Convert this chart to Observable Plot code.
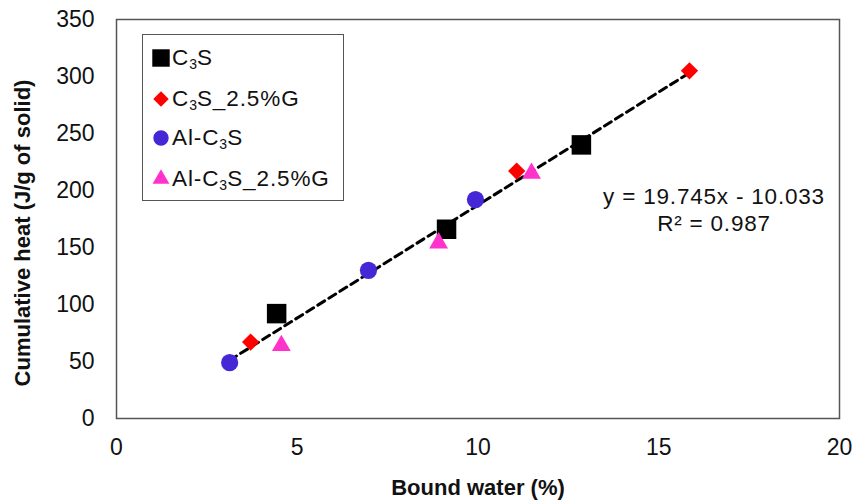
<!DOCTYPE html>
<html>
<head>
<meta charset="utf-8">
<script src="https://cdn.jsdelivr.net/npm/d3@7"></script>
<script src="https://cdn.jsdelivr.net/npm/@observablehq/plot@0.6"></script>
<style>
  body { margin: 0; background: #fff; font-family: "Liberation Sans", Arial, sans-serif; }
  #wrap { position: relative; width: 857px; height: 501px; }
  #legend { position: absolute; left: 142px; top: 34px; width: 202px; height: 167px; border: 1.5px solid #555; background: #fff; box-sizing: border-box; }
  .item { position: absolute; left: 7px; height: 26px; display: flex; align-items: center; font-size: 22.5px; letter-spacing: 0.9px; color: #111; white-space: nowrap; }
  .item svg { width: 22px; height: 22px; margin-right: 0px; }
  .item sub { font-size: 14px; vertical-align: -4px; line-height: 0; letter-spacing: 0; }
  #eq { position: absolute; left: 584px; top: 183px; width: 260px; text-align: center; font-size: 22.5px; color: #111; line-height: 27px; letter-spacing: 0.8px; white-space: nowrap; }
</style>
</head>
<body>
<div id="wrap"></div>
<script>
// Data
const series = ["C3S", "C3S_2.5%G", "Al-C3S", "Al-C3S_2.5%G"];
const colors = ["#000000", "#ff0000", "#4527d6", "#ff33cc"];
const symbols = ["square", "diamond2", "circle", "triangle"];
const radii = [11, 7.8, 8.6, 7.0];

const c3sX = [4.43, 9.13, 12.86];
const c3sY = [92, 166, 240];
const c3sGX = [3.71, 11.07, 15.85];
const c3sGY = [67, 217, 305];
const alX = [3.13, 6.97, 9.93];
const alY = [49, 130, 192];
const alGX = [4.56, 8.91, 11.48];
const alGY = [64, 154, 215];

const xTicks = [0, 5, 10, 15, 20];
const yTicks = [0, 50, 100, 150, 200, 250, 300, 350];
const equation = "y = 19.745x - 10.033";
const rSquared = "R² = 0.987";

const xs = [c3sX, c3sGX, alX, alGX];
const ys = [c3sY, c3sGY, alY, alGY];
const data = [];
series.forEach((s, i) => xs[i].forEach((x, j) => data.push({series: s, idx: i, x, y: ys[i][j]})));

const marks = [
  Plot.frame({stroke: "#555", strokeWidth: 1.5}),
  Plot.linearRegressionY(data, {x: "x", y: "y", ci: 0, stroke: "#000", strokeWidth: 3, strokeDasharray: "8,5"})
];
series.forEach((s, i) => {
  marks.push(Plot.dot(data.filter(d => d.idx === i), {
    x: "x", y: "y", symbol: () => symbols[i], r: radii[i], fill: colors[i], stroke: "none"
  }));
});

const chart = Plot.plot({
  width: 857,
  height: 501,
  marginLeft: 116,
  marginRight: 18,
  marginTop: 19,
  marginBottom: 83,
  style: {fontFamily: "'Liberation Sans', Arial, sans-serif", fontSize: "23px", color: "#111", background: "#fff", overflow: "visible"},
  x: {domain: [0, 20], label: null},
  y: {domain: [0, 350], label: null},
  marks: [
    ...marks,
    Plot.axisX({ticks: xTicks, tickSize: 0, tickPadding: 20, label: null, fontSize: 23}),
    Plot.axisY({ticks: yTicks, tickSize: 0, tickPadding: 22, label: null, fontSize: 23}),
    Plot.text(["Bound water (%)"], {frameAnchor: "bottom", dy: 69, lineAnchor: "middle", fontWeight: "bold", fontSize: 22, text: d => d}),
    Plot.text(["Cumulative heat (J/g of solid)"], {frameAnchor: "left", dx: -94, dy: 14, rotate: -90, textAnchor: "middle", lineAnchor: "middle", fontWeight: "bold", fontSize: 22, text: d => d})
  ]
});

const wrap = document.getElementById("wrap");
wrap.appendChild(chart);

// Legend
const legend = document.createElement("div");
legend.id = "legend";
const labels = ["C<sub>3</sub>S", "C<sub>3</sub>S_2.5%G", "Al-C<sub>3</sub>S", "Al-C<sub>3</sub>S_2.5%G"];
const tops = [10, 51, 90, 131];
const symMap = {square: d3.symbolSquare, diamond2: d3.symbolDiamond2, circle: d3.symbolCircle, triangle: d3.symbolTriangle};
series.forEach((s, i) => {
  const it = document.createElement("div");
  it.className = "item";
  it.style.top = tops[i] + "px";
  const sym = d3.symbol(symMap[symbols[i]], Math.PI * radii[i] * radii[i] * 0.8)();
  it.innerHTML = `<svg viewBox="-11 -11 22 22"><path d="${sym}" fill="${colors[i]}"/></svg><span>${labels[i]}</span>`;
  legend.appendChild(it);
});
wrap.appendChild(legend);

const eq = document.createElement("div");
eq.id = "eq";
eq.innerHTML = equation + "<br>" + rSquared;
wrap.appendChild(eq);
</script>
</body>
</html>
